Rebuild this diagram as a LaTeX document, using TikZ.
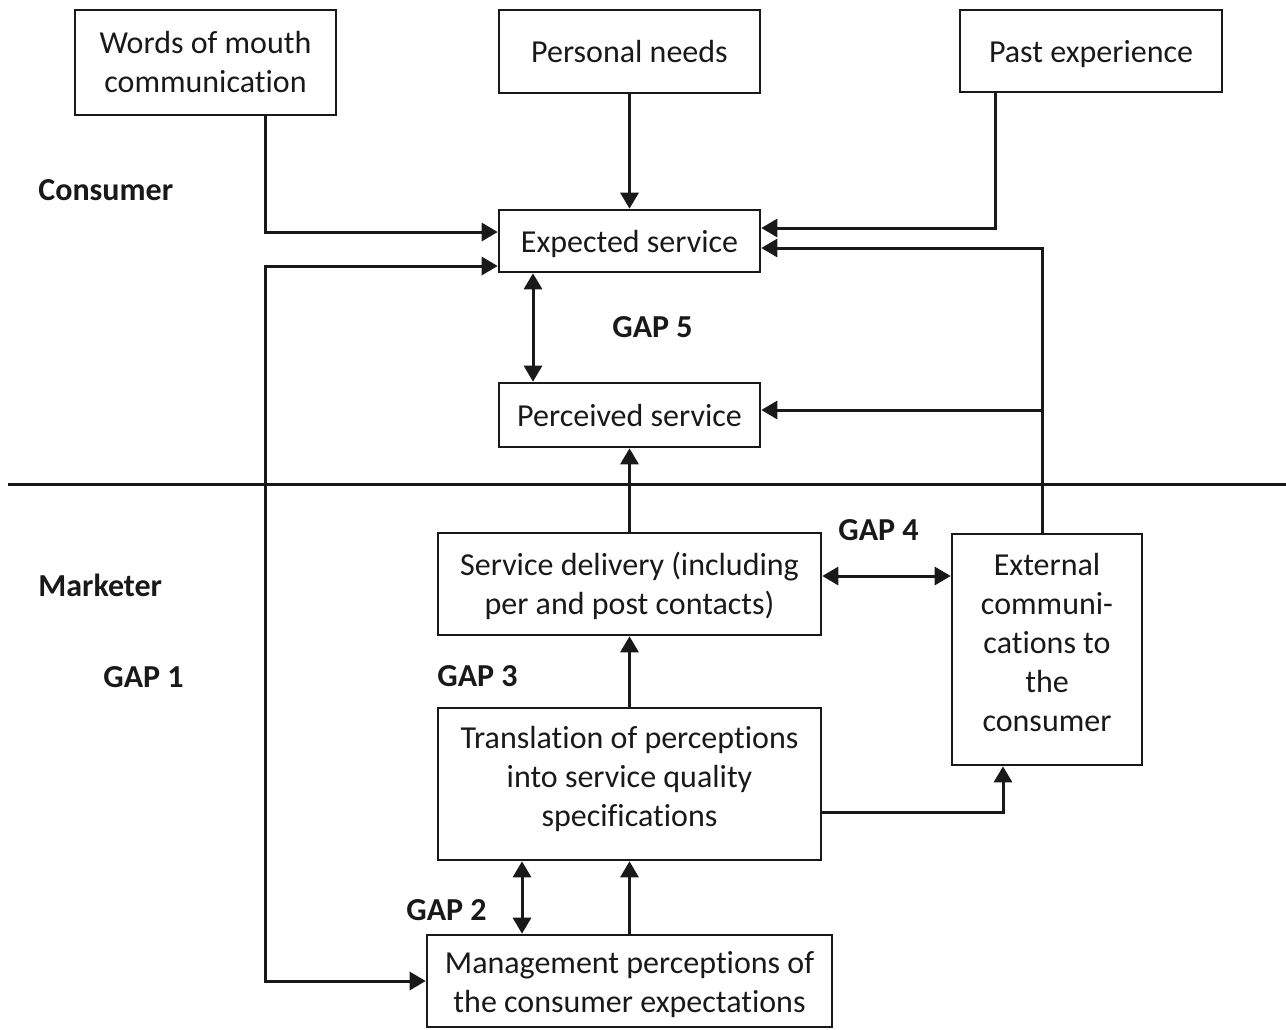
\documentclass[tikz,border=0pt]{standalone}
\usepackage{fontspec}
\setmainfont{Carlito}[Ligatures=NoCommon]
\usetikzlibrary{arrows.meta}
\newcommand{\upr}[1]{\rule{0pt}{#1}}
\newcommand{\dnr}[1]{\rule[-#1]{0pt}{0pt}}
\begin{document}
\begin{tikzpicture}[x=0.5pt,y=-0.5pt,
  box/.style={draw=black!90, line width=1.3pt, inner sep=0pt, align=center,
    font=\fontsize{16}{19.5}\selectfont, text=black!90},
  lbl/.style={anchor=west, inner sep=0pt, font=\fontsize{16}{18}\selectfont\bfseries, text=black!90},
  conn/.style={draw=black!90, line width=1.5pt},
  arr/.style={conn, -{Triangle[length=8pt,width=9pt]}},
  arrtwo/.style={conn, {Triangle[length=8pt,width=9pt]}-{Triangle[length=8pt,width=9pt]}}]
\useasboundingbox (0,0) rectangle (1286,1029);
% boxes
\node[box, minimum width=130.5pt, minimum height=52.5pt] (words) at (205.5,62.5) {Words of mouth\\communication};
\node[box, minimum width=130.5pt, minimum height=41.5pt] (needs) at (629.5,51.5) {Personal needs};
\node[box, minimum width=131pt, minimum height=41pt] (past) at (1091,51) {\upr{14.5pt}Past experience};
\node[box, minimum width=130.5pt, minimum height=31pt] (exp) at (629.5,241) {\upr{14.5pt}Expected service};
\node[box, minimum width=130.5pt, minimum height=32pt] (perc) at (629.5,415) {Perceived service};
\node[box, minimum width=191.5pt, minimum height=51pt] (deliv) at (629.5,584) {\upr{13.5pt}Service delivery (including\\per and post contacts)};
\node[box, minimum width=95pt, minimum height=115.5pt] (ext) at (1047,649.5) {External\\communi-\\cations to\\the\\consumer\dnr{7pt}};
\node[box, minimum width=191.5pt, minimum height=76pt] (trans) at (629.5,784) {Translation of perceptions\\into service quality\\specifications\dnr{7.5pt}};
\node[box, minimum width=202.5pt, minimum height=46pt] (mgmt) at (629.5,981) {\upr{14.5pt}Management perceptions of\\the consumer expectations};
% labels
\node[lbl] (consumer) at (38,190) {Consumer};
\node[lbl] (marketer) at (38,585) {Marketer};
\node[lbl] (gap1) at (103,677) {GAP 1};
\node[lbl] (gap2) at (406,910) {GAP 2};
\node[lbl] (gap3) at (437,676) {GAP 3};
\node[lbl] (gap4) at (838,530) {GAP 4};
\node[lbl] (gap5) at (612,327) {GAP 5};
% divider
\coordinate (dl) at (8,484);
\coordinate (dr) at (1286,484);
\draw[conn] (dl) -- (dr);
% helper coordinates
\coordinate (a1) at (265,232);
\coordinate (a2) at (265,266);
\coordinate (a3) at (995,228);
\coordinate (a4) at (1042,248);
\coordinate (a5) at (1042,410);
\coordinate (a6) at (533,0);
\coordinate (a7) at (0,576);
\coordinate (a8) at (1003,812);
\coordinate (a9) at (522,0);
% connectors
\draw[arr] (words.south -| a1) |- (exp.west |- a1);
\draw[arrtwo] (mgmt.west) -| (a2) -- (exp.west |- a2);
\draw[arr] (needs.south) -- (exp.north);
\draw[arr] (past.south -| a3) |- (exp.east |- a3);
\draw[arr] (ext.north -| a4) |- (exp.east |- a4);
\draw[arr] (a5) -- (perc.east |- a5);
\draw[arrtwo] (exp.south -| a6) -- (perc.north -| a6);
\draw[arr] (deliv.north) -- (perc.south);
\draw[arrtwo] (deliv.east |- a7) -- (ext.west |- a7);
\draw[arr] (trans.north) -- (deliv.south);
\draw[arr] (trans.east |- a8) -| (ext.south -| a8);
\draw[arrtwo] (trans.south -| a9) -- (mgmt.north -| a9);
\draw[arr] (mgmt.north) -- (trans.south);
\end{tikzpicture}
\end{document}
